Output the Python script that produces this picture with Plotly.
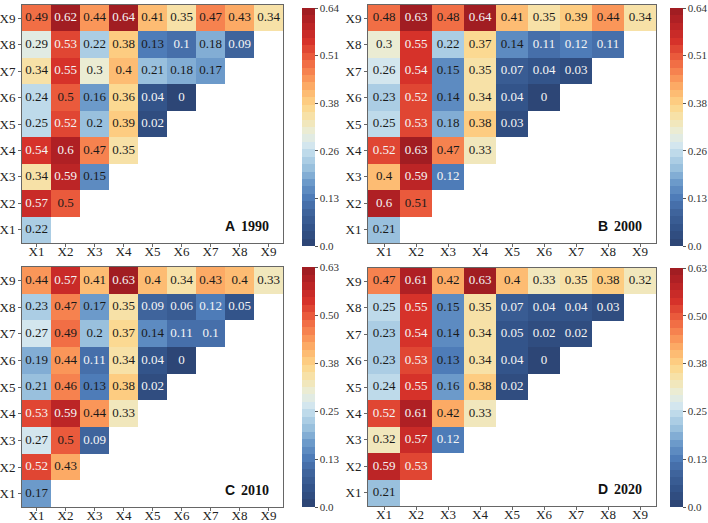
import plotly.graph_objects as go
from plotly.colors import sample_colorscale

W, H = 708, 523

labels = ["X1", "X2", "X3", "X4", "X5", "X6", "X7", "X8", "X9"]

a_1990 = [
    [0.22],
    [0.57, 0.5],
    [0.34, 0.59, 0.15],
    [0.54, 0.6, 0.47, 0.35],
    [0.25, 0.52, 0.2, 0.39, 0.02],
    [0.24, 0.5, 0.16, 0.36, 0.04, 0],
    [0.34, 0.55, 0.3, 0.4, 0.21, 0.18, 0.17],
    [0.29, 0.53, 0.22, 0.38, 0.13, 0.1, 0.18, 0.09],
    [0.49, 0.62, 0.44, 0.64, 0.41, 0.35, 0.47, 0.43, 0.34],
]
b_2000 = [
    [0.21],
    [0.6, 0.51],
    [0.4, 0.59, 0.12],
    [0.52, 0.63, 0.47, 0.33],
    [0.25, 0.53, 0.18, 0.38, 0.03],
    [0.23, 0.52, 0.14, 0.34, 0.04, 0],
    [0.26, 0.54, 0.15, 0.35, 0.07, 0.04, 0.03],
    [0.3, 0.55, 0.22, 0.37, 0.14, 0.11, 0.12, 0.11],
    [0.48, 0.63, 0.48, 0.64, 0.41, 0.35, 0.39, 0.44, 0.34],
]
c_2010 = [
    [0.17],
    [0.52, 0.43],
    [0.27, 0.5, 0.09],
    [0.53, 0.59, 0.44, 0.33],
    [0.21, 0.46, 0.13, 0.38, 0.02],
    [0.19, 0.44, 0.11, 0.34, 0.04, 0],
    [0.27, 0.49, 0.2, 0.37, 0.14, 0.11, 0.1],
    [0.23, 0.47, 0.17, 0.35, 0.09, 0.06, 0.12, 0.05],
    [0.44, 0.57, 0.41, 0.63, 0.4, 0.34, 0.43, 0.4, 0.33],
]
d_2020 = [
    [0.21],
    [0.59, 0.53],
    [0.32, 0.57, 0.12],
    [0.52, 0.61, 0.42, 0.33],
    [0.24, 0.55, 0.16, 0.38, 0.02],
    [0.23, 0.53, 0.13, 0.34, 0.04, 0],
    [0.23, 0.54, 0.14, 0.34, 0.05, 0.02, 0.02],
    [0.25, 0.55, 0.15, 0.35, 0.07, 0.04, 0.04, 0.03],
    [0.47, 0.61, 0.42, 0.63, 0.4, 0.33, 0.35, 0.38, 0.32],
]

letters = ["A", "B", "C", "D"]
years = ["1990", "2000", "2010", "2020"]
zmaxes = [0.64, 0.64, 0.63, 0.63]
cbar_ticks_ab = ["0.0", "0.13", "0.26", "0.38", "0.51", "0.64"]
cbar_ticks_cd = ["0.0", "0.13", "0.25", "0.38", "0.50", "0.63"]
cbar_ticktexts = [cbar_ticks_ab, cbar_ticks_ab, cbar_ticks_cd, cbar_ticks_cd]
datasets = [a_1990, b_2000, c_2010, d_2020]

# continuous anchor scale (RdYlBu-like), then stepped into bands
anchors = [
    [0.00, "#2b4371"], [0.08, "#33548b"], [0.15, "#41679f"], [0.20, "#4c7ab7"],
    [0.27, "#6e9ccb"], [0.33, "#9ac1de"], [0.38, "#b7d6e8"], [0.42, "#d2e6ef"],
    [0.47, "#e8eedd"], [0.53, "#f4e5b2"], [0.59, "#fdd68a"], [0.66, "#fdb26a"],
    [0.72, "#f98b53"], [0.79, "#ec5e3e"], [0.86, "#d6322a"], [0.93, "#b92326"],
    [1.00, "#9a1b21"],
]
NB = 32
band_cols = sample_colorscale(anchors, [(i + 0.5) / NB for i in range(NB)])
stepped = []
for i, c in enumerate(band_cols):
    stepped.append([i / NB, c])
    stepped.append([(i + 1) / NB, c])

# layout geometry in pixels (left, right, top, bottom)
boxes = [(22, 283, 5, 243), (368, 656, 5, 243), (22, 283, 267, 507), (368, 656, 268, 506)]
cbars = [(302, 8, 246), (670, 8, 246), (302, 267, 507), (670, 268, 507)]

serif = "'Times New Roman', 'Liberation Serif', Times, serif"
sans = "Arial, 'Liberation Sans', sans-serif"
fig = go.Figure()
layout = dict(
    width=W, height=H, margin=dict(l=0, r=0, t=0, b=0, pad=0),
    paper_bgcolor="white", plot_bgcolor="white", showlegend=False,
    font=dict(family=serif, color="#222"),
)
annotations = []

for k in range(4):
    ax = "" if k == 0 else str(k + 1)
    xa, ya = "x" + ax, "y" + ax
    rows = datasets[k]
    zmax = zmaxes[k]
    z = [[None] * 9 for _ in range(9)]
    tx, ty, tt, tc = [], [], [], []
    for i, row in enumerate(rows):
        for j, v in enumerate(row):
            z[i][j] = v
            tx.append(labels[j])
            ty.append(labels[i])
            tt.append(f"{v:g}")
            tc.append("#f5f5f5" if (v <= 0.12 or v >= 0.52) else "#1a1a1a")
    cbx, cbt, cbb = cbars[k]
    tickvals = [round(zmax * t / 5, 6) for t in range(6)]
    tickvals[-1] = zmax - 1e-9
    fig.add_trace(go.Heatmap(
        x=labels, y=labels, z=z, zmin=0, zmax=zmax, colorscale=stepped,
        xaxis=xa, yaxis=ya, hoverinfo="skip",
        colorbar=dict(
            x=cbx / W, xanchor="left", y=(H - cbt) / H, yanchor="top",
            len=(cbb - cbt) / H, lenmode="fraction",
            thickness=13, thicknessmode="pixels", xpad=0, ypad=0,
            outlinewidth=0, ticks="outside", ticklen=3, tickcolor="#555",
            tickvals=tickvals,
            ticktext=cbar_ticktexts[k],
            tickfont=dict(family=serif, size=11, color="#333"),
        ),
    ))
    fig.add_trace(go.Scatter(
        x=tx, y=ty, text=tt, mode="text", xaxis=xa, yaxis=ya,
        textfont=dict(family=serif, size=13, color=tc), hoverinfo="skip",
    ))
    l, r, t, b = boxes[k]
    axis_common = dict(
        type="category", categoryorder="array", categoryarray=labels,
        range=[-0.5, 8.5], showgrid=False, zeroline=False, showline=True,
        mirror=True, linecolor="#666", linewidth=1, ticks="outside", ticklen=3,
        tickcolor="#666", tickfont=dict(family=serif, size=13, color="#222"),
        automargin=False, fixedrange=True,
    )
    layout["xaxis" + ax] = dict(axis_common, domain=[l / W, r / W], anchor=ya,
                                ticklabelstandoff=-7)
    layout["yaxis" + ax] = dict(axis_common, domain=[(H - b) / H, (H - t) / H], anchor=xa)
    annotations.append(dict(
        xref=xa + " domain", yref=ya + " domain", x=1, y=0, xanchor="right",
        yanchor="bottom", xshift=-12, yshift=7, showarrow=False,
        text="<b>" + years[k] + "</b>", font=dict(family=serif, size=14, color="#111"),
    ))
    annotations.append(dict(
        xref=xa + " domain", yref=ya + " domain", x=1, y=0, xanchor="right",
        yanchor="bottom", xshift=-46, yshift=7, showarrow=False,
        text="<b>" + letters[k] + "</b>",
        font=dict(family=sans, size=14, color="#111"),
    ))

layout["annotations"] = annotations
fig.update_layout(**layout)
fig.write_html("out.html")
